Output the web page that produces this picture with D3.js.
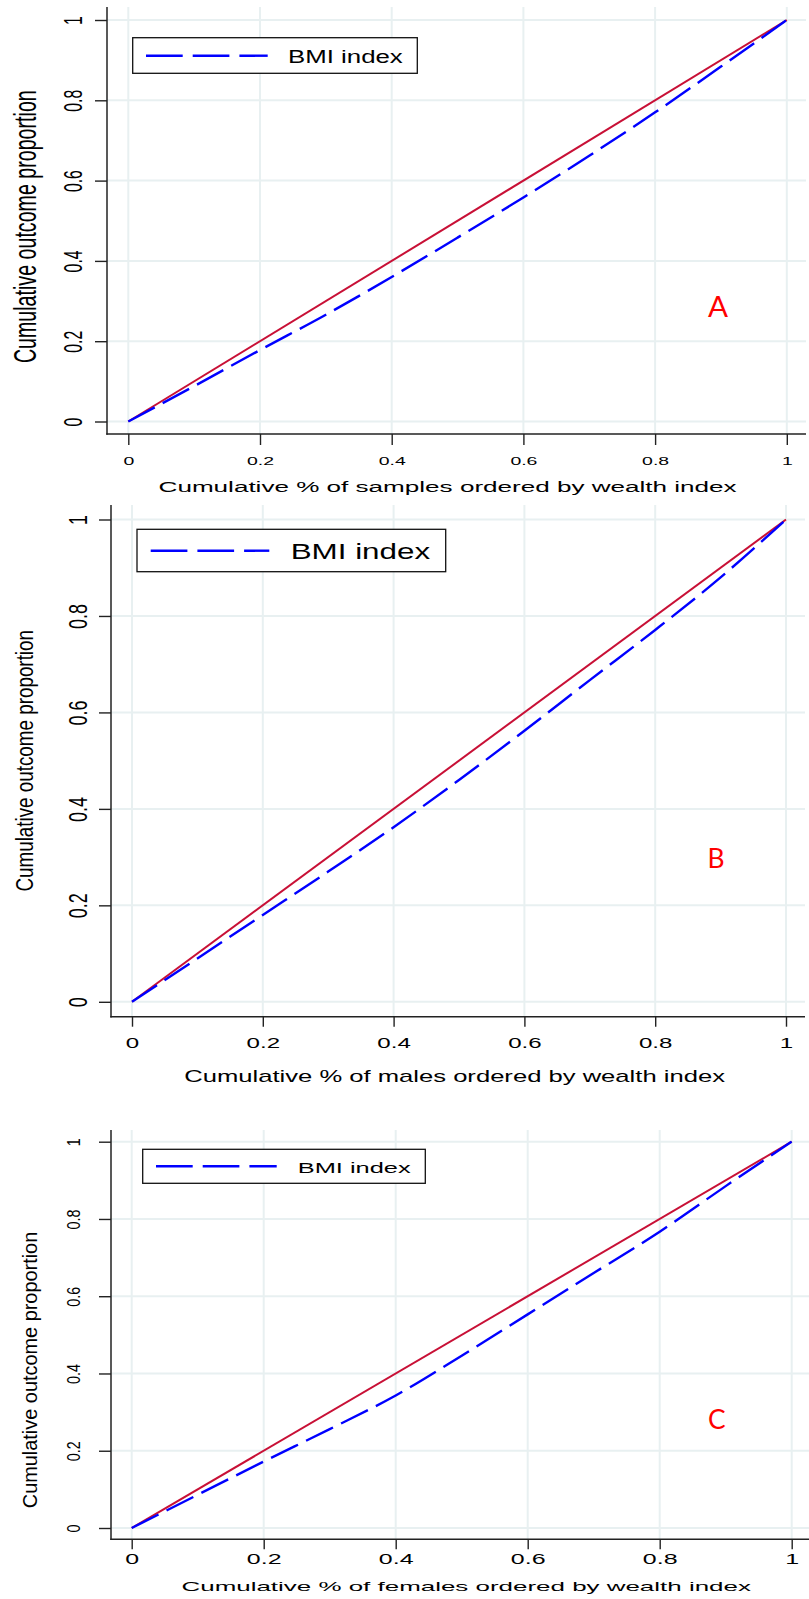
<!DOCTYPE html>
<html><head><meta charset="utf-8">
<script src="https://cdn.jsdelivr.net/npm/d3@7"></script>
<style>html,body{margin:0;padding:0;background:#fff;} svg{display:block;}</style>
</head><body>
<svg id="c" width="809" height="1599"></svg>
<script>
const xTicks = [0, 0.2, 0.4, 0.6, 0.8, 1];
const yTicks = [0, 0.2, 0.4, 0.6, 0.8, 1];
const tickLabels = ["0", "0.2", "0.4", "0.6", "0.8", "1"];
const curveX = [0, 0.1, 0.2, 0.3, 0.4, 0.5, 0.6, 0.7, 0.8, 0.9, 1];
const bmiA = [0, 0.088, 0.178, 0.266, 0.36, 0.458, 0.558, 0.662, 0.77, 0.884, 1];
const bmiB = [0, 0.09, 0.18, 0.27, 0.362, 0.46, 0.562, 0.667, 0.771, 0.88, 1];
const bmiC = [0, 0.086, 0.172, 0.256, 0.343, 0.446, 0.553, 0.66, 0.767, 0.885, 1];
const equalityX = [0, 1];
const equalityY = [0, 1];
const legendLabel = "BMI index";
const yTitle = "Cumulative outcome proportion";
const xTitles = ["Cumulative % of samples ordered by wealth index",
                 "Cumulative % of males ordered by wealth index",
                 "Cumulative % of females ordered by wealth index"];
const panelLabels = ["A", "B", "C"];
const series = [bmiA, bmiB, bmiC];

const layout = [
 {x0:128.3,x1:786.8,y0:421.5,y1:20, axX:107, axY:434, top:7, right:806, ytick:12, xtick:11,
  ytl:{bx:81.7,len:22,cap:18}, xtl:{base:465.3,cap:8,w:27},
  xt:{cx:447.6,base:492.3,cap:10,w:578}, yt:{bx:36,cy:226.7,len:273,cap:22.7},
  leg:{x0:132.7,x1:417.3,y0:37.7,y1:73.3,ly:55.7,lx0:146,lx1:267.7,tx:288,tb:62.7,cap:12.7,tw:114.7},
  lab:{cx:718,cy:306.6,cap:21.3}},
 {x0:132,x1:786,y0:1001.8,y1:519.5, axX:111, axY:1016.7, top:505, right:805, ytick:12, xtick:10,
  ytl:{bx:87.3,len:25,cap:19}, xtl:{base:1047.7,cap:11,w:33.5},
  xt:{cx:454.6,base:1081.7,cap:11.7,w:540.8}, yt:{bx:33.3,cy:760.8,len:261.7,cap:16.6},
  leg:{x0:137,x1:445.7,y0:529.3,y1:571.7,ly:550.7,lx0:150.7,lx1:269.3,tx:290.7,tb:559,cap:15.7,tw:139.3},
  lab:{cx:716,cy:858.3,cap:19}},
 {x0:131.7,x1:791.7,y0:1528,y1:1141.7, axX:111, axY:1539.3, top:1130, right:809, ytick:12, xtick:10,
  ytl:{bx:80,len:20,cap:13.3}, xtl:{base:1564,cap:10.7,w:34.7},
  xt:{cx:466.2,base:1590.7,cap:9.7,w:569}, yt:{bx:37.3,cy:1370,len:276.6,cap:14},
  leg:{x0:142.7,x1:425.3,y0:1149.3,y1:1183.3,ly:1166.3,lx0:156,lx1:276.7,tx:297.7,tb:1172.7,cap:11,tw:113},
  lab:{cx:716.7,cy:1419.3,cap:19}}
];

const FONT = "'Liberation Sans', Arial, Helvetica, sans-serif";
const LABFONT = "Lato, 'Open Sans', sans-serif";
const CAP = 0.716;
const GRID = "#e8f0f1";
const RED = "#c81036";
const BLUE = "#0000ff";
const svg = d3.select("#c");

function measure(str, size, family) {
  const t = svg.append("text").attr("font-size", size).attr("font-family", family || FONT).text(str);
  const L = t.node().getComputedTextLength();
  t.remove();
  return L;
}

layout.forEach((p, i) => {
  const g = svg.append("g");
  const x = d3.scaleLinear().domain([0, 1]).range([p.x0, p.x1]);
  const y = d3.scaleLinear().domain([0, 1]).range([p.y0, p.y1]);

  // grid
  g.append("g").selectAll("line").data(xTicks).join("line")
    .attr("x1", d => x(d)).attr("x2", d => x(d)).attr("y1", p.top).attr("y2", p.axY)
    .attr("stroke", GRID).attr("stroke-width", 2);
  g.append("g").selectAll("line").data(yTicks).join("line")
    .attr("x1", p.axX).attr("x2", p.right).attr("y1", d => y(d)).attr("y2", d => y(d))
    .attr("stroke", GRID).attr("stroke-width", 2);

  // axis lines
  g.append("line").attr("x1", p.axX).attr("x2", p.axX).attr("y1", p.top).attr("y2", p.axY + 0.7)
    .attr("stroke", "#222").attr("stroke-width", 1.5);
  g.append("line").attr("x1", p.axX - 0.7).attr("x2", p.right).attr("y1", p.axY).attr("y2", p.axY)
    .attr("stroke", "#222").attr("stroke-width", 1.5);

  // y axis
  const yAx = g.append("g").attr("transform", `translate(${p.axX},0)`)
    .call(d3.axisLeft(y).tickValues(yTicks).tickSize(p.ytick).tickFormat((d, k) => tickLabels[k]));
  yAx.select(".domain").remove();
  yAx.selectAll(".tick line").attr("stroke", "#222").attr("stroke-width", 1.4);
  const fY = p.ytl.len * 100 / measure("0.8", 100);
  const sxY = p.ytl.cap / (CAP * fY);
  yAx.selectAll(".tick text").attr("x", null).attr("dy", null)
    .attr("text-anchor", "middle").attr("font-family", FONT).attr("font-size", fY).attr("fill", "#000")
    .attr("transform", `translate(${p.ytl.bx - p.axX},0) scale(${sxY},1) rotate(-90)`);

  // x axis
  const xAx = g.append("g").attr("transform", `translate(0,${p.axY})`)
    .call(d3.axisBottom(x).tickValues(xTicks).tickSize(p.xtick).tickFormat((d, k) => tickLabels[k]));
  xAx.select(".domain").remove();
  xAx.selectAll(".tick line").attr("stroke", "#222").attr("stroke-width", 1.4);
  const fX = p.xtl.cap / CAP;
  const sxX = p.xtl.w / measure("0.2", fX);
  xAx.selectAll(".tick text").attr("y", null).attr("dy", null)
    .attr("text-anchor", "middle").attr("font-family", FONT).attr("font-size", fX).attr("fill", "#000")
    .attr("transform", `translate(0,${p.xtl.base - p.axY}) scale(${sxX},1)`);

  // x title
  const fXT = p.xt.cap / CAP;
  const sxXT = p.xt.w / measure(xTitles[i], fXT);
  g.append("text").text(xTitles[i]).attr("font-family", FONT).attr("font-size", fXT)
    .attr("text-anchor", "middle").attr("fill", "#000")
    .attr("transform", `translate(${p.xt.cx},${p.xt.base}) scale(${sxXT},1)`);

  // y title
  const fYT = p.yt.len * 100 / measure(yTitle, 100);
  const sxYT = p.yt.cap / (CAP * fYT);
  g.append("text").text(yTitle).attr("font-family", FONT).attr("font-size", fYT)
    .attr("text-anchor", "middle").attr("fill", "#000")
    .attr("transform", `translate(${p.yt.bx},${p.yt.cy}) scale(${sxYT},1) rotate(-90)`);

  // lines
  const eqLine = d3.line().x((d, k) => x(equalityX[k])).y(d => y(d));
  g.append("path").attr("d", eqLine(equalityY)).attr("fill", "none")
    .attr("stroke", RED).attr("stroke-width", 2);
  const bLine = d3.line().x((d, k) => x(curveX[k])).y(d => y(d)).curve(d3.curveMonotoneX);
  g.append("path").attr("d", bLine(series[i])).attr("fill", "none")
    .attr("stroke", BLUE).attr("stroke-width", 2.4).attr("stroke-dasharray", "30,9");

  // legend
  const L = p.leg;
  g.append("rect").attr("x", L.x0).attr("y", L.y0).attr("width", L.x1 - L.x0).attr("height", L.y1 - L.y0)
    .attr("fill", "#fff").attr("stroke", "#111").attr("stroke-width", 1.3);
  g.append("line").attr("x1", L.lx0).attr("x2", L.lx1).attr("y1", L.ly).attr("y2", L.ly)
    .attr("stroke", BLUE).attr("stroke-width", 2.4).attr("stroke-dasharray", "36.7,10");
  const fL = L.cap / CAP;
  const sxL = L.tw / measure(legendLabel, fL);
  g.append("text").text(legendLabel).attr("font-family", FONT).attr("font-size", fL).attr("fill", "#000")
    .attr("transform", `translate(${L.tx},${L.tb}) scale(${sxL},1)`);

  // panel label
  const fP = p.lab.cap / 0.72;
  g.append("text").text(panelLabels[i]).attr("font-family", LABFONT).attr("font-size", fP)
    .attr("text-anchor", "middle").attr("fill", "#ff0000")
    .attr("x", p.lab.cx).attr("y", p.lab.cy + p.lab.cap / 2);
});
</script>
</body></html>
